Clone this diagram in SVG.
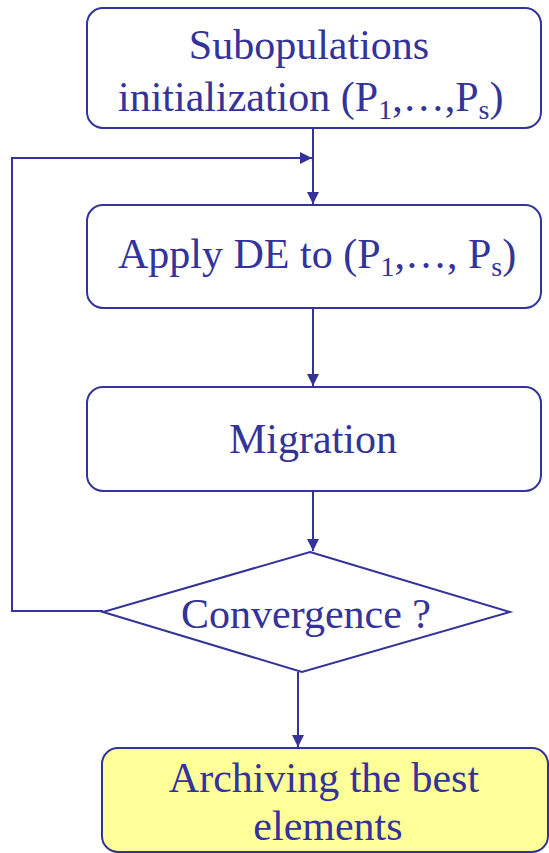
<svg xmlns="http://www.w3.org/2000/svg" width="549" height="853" viewBox="0 0 549 853">
<style>
.box{fill:#fff;stroke:#333399;stroke-width:2}
.t{font-family:"Liberation Serif","Times New Roman",serif;font-size:42px;fill:#333399}
.sub{font-size:28px}
.c{fill:none;stroke:#333399;stroke-width:2}
</style>
<defs>
<marker id="ah" viewBox="0 0 12 12" refX="12" refY="6" markerWidth="12" markerHeight="12" markerUnits="userSpaceOnUse" orient="auto">
<path d="M0,0 L12,6 L0,12 Z" fill="#333399"/>
</marker>
</defs>
<rect width="549" height="853" fill="#fff"/>
<g id="connectors">
<line class="c" x1="313" y1="128" x2="313" y2="204" marker-end="url(#ah)"/>
<polyline class="c" points="103,611 12,611 12,158 312,158" marker-end="url(#ah)"/>
<line class="c" x1="313" y1="308" x2="313" y2="386" marker-end="url(#ah)"/>
<line class="c" x1="313" y1="491" x2="313" y2="551" marker-end="url(#ah)"/>
<line class="c" x1="298" y1="672" x2="298" y2="747" marker-end="url(#ah)"/>
</g>
<g id="init">
<rect class="box" x="87" y="8" width="454" height="120" rx="16"/>
<text class="t" x="309" y="59" text-anchor="middle">Subopulations</text>
<text class="t" x="118" y="111">initialization (P<tspan class="sub" dy="8">1</tspan><tspan dy="-8">,…,P</tspan><tspan class="sub" dy="8">s</tspan><tspan dy="-8">)</tspan></text>
</g>
<g id="apply">
<rect class="box" x="87" y="205" width="454" height="103" rx="16"/>
<text class="t" x="118" y="268">Apply DE to (P<tspan class="sub" dy="8">1</tspan><tspan dy="-8">,…, P</tspan><tspan class="sub" dy="8">s</tspan><tspan dy="-8">)</tspan></text>
</g>
<g id="migration">
<rect class="box" x="87" y="387" width="454" height="104" rx="16"/>
<text class="t" x="313" y="453" text-anchor="middle">Migration</text>
</g>
<g id="convergence">
<polygon class="box" points="310,552 510,612 302,672 103,612"/>
<text class="t" x="306" y="628" text-anchor="middle">Convergence ?</text>
</g>
<g id="archive">
<rect x="102" y="748" width="446" height="104" rx="16" fill="#FFFF99" stroke="#333399" stroke-width="2"/>
<text class="t" x="324" y="792" text-anchor="middle">Archiving the best</text>
<text class="t" x="328" y="840" text-anchor="middle">elements</text>
</g>
</svg>
